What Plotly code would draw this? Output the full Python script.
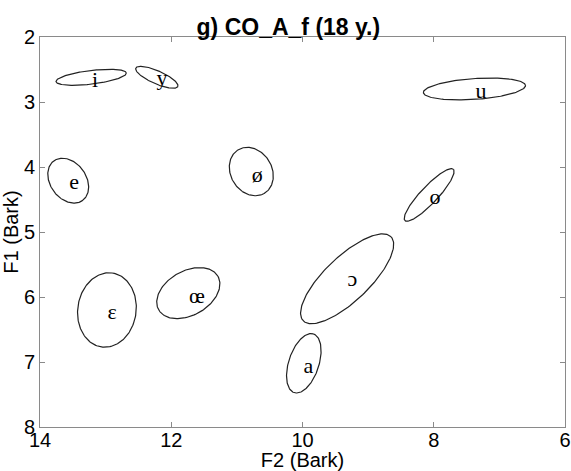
import numpy as np
import plotly.graph_objects as go

# Vowel ellipse data (F2, F1 in Bark)
vowels = ["i", "y", "u", "e", "ø", "o", "ε", "œ", "ɔ", "a"]
center_f2 = [13.22, 12.22, 7.38, 13.57, 10.78, 8.07, 12.98, 11.74, 9.32, 9.98]
center_f1 = [2.62, 2.62, 2.80, 4.21, 4.07, 4.43, 6.20, 5.94, 5.72, 7.02]
semi_major = [0.54, 0.35, 0.78, 0.375, 0.39, 0.54, 0.575, 0.52, 0.93, 0.475]
semi_minor = [0.105, 0.10, 0.16, 0.275, 0.315, 0.13, 0.445, 0.34, 0.34, 0.23]
angle_deg = [7, -24, 4, -55, -60, 47, 82, 30, 44, 72]
label_f2 = [13.16, 12.14, 7.28, 13.48, 10.69, 7.98, 12.90, 11.61, 9.24, 9.91]
label_f1 = [2.68, 2.66, 2.86, 4.25, 4.14, 4.48, 6.25, 6.00, 5.75, 7.08]

x_ticks = [14, 12, 10, 8, 6]
y_ticks = [2, 3, 4, 5, 6, 7, 8]

fig = go.Figure()
t = np.linspace(0, 2 * np.pi, 181)
for k in range(len(vowels)):
    th = np.deg2rad(angle_deg[k])
    a, b = semi_major[k], semi_minor[k]
    dx = a * np.cos(th) * np.cos(t) - b * np.sin(th) * np.sin(t)
    dy = a * np.sin(th) * np.cos(t) + b * np.cos(th) * np.sin(t)
    # screen right = lower F2, screen up = lower F1 (both axes reversed)
    fig.add_trace(go.Scatter(
        x=center_f2[k] - dx, y=center_f1[k] - dy, mode="lines",
        line=dict(color="#222222", width=1.2), hoverinfo="skip", showlegend=False))

fig.add_trace(go.Scatter(
    x=label_f2, y=label_f1, mode="text", text=vowels,
    textfont=dict(family="Liberation Serif", size=22, color="#000000"),
    textposition="middle center", showlegend=False, hoverinfo="skip"))

axis_common = dict(
    showgrid=False, zeroline=False, showline=True, linecolor="#8a8a8a", linewidth=1,
    mirror="ticks", ticks="inside", ticklen=5, tickcolor="#8a8a8a",
    tickfont=dict(family="Liberation Sans", size=20, color="#000000"),
    automargin=False,
)

fig.update_layout(
    width=571, height=471,
    margin=dict(l=40, r=6, t=37, b=44),
    paper_bgcolor="white", plot_bgcolor="white",
    title=dict(text="<b>g) CO_A_f (18 y.)</b>", x=0.505, xanchor="center",
    y=0.943, yanchor="middle",
    font=dict(family="Liberation Sans", size=23, color="#000000")),
    xaxis=dict(range=[14, 6], tickvals=x_ticks, ticktext=[str(v) for v in x_ticks],
               ticklabelstandoff=-5,
               title=dict(text="F2 (Bark)", standoff=0,
                          font=dict(family="Liberation Sans", size=20, color="#000000")),
               **axis_common),
    yaxis=dict(range=[8, 2], tickvals=y_ticks, ticktext=[str(v) for v in y_ticks],
               title=dict(text="F1 (Bark)", standoff=0,
                          font=dict(family="Liberation Sans", size=20, color="#000000")),
               **axis_common),
)

fig.write_html("out.html")
